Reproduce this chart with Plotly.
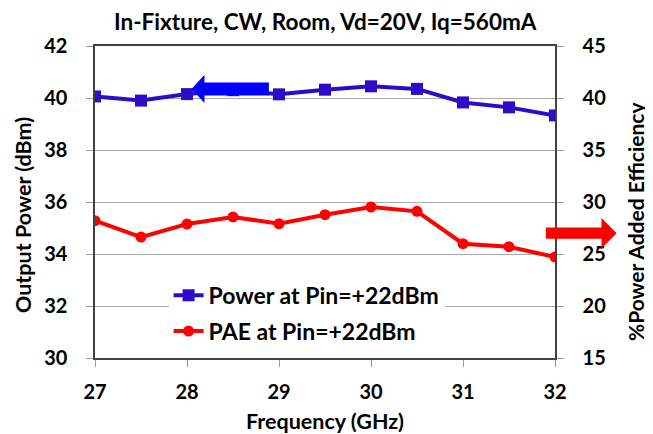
import plotly.graph_objects as go

freq = [27, 27.5, 28, 28.5, 29, 29.5, 30, 30.5, 31, 31.5, 32]
power = [40.06, 39.90, 40.15, 40.30, 40.14, 40.32, 40.45, 40.35, 39.83, 39.64, 39.33]
pae = [28.2, 26.63, 27.88, 28.56, 27.91, 28.78, 29.52, 29.1, 25.99, 25.7, 24.71]

FONT = "Lato"
blue = "#2E0BC8"
red = "#FF0000"
NB = "\u00a0"

fig = go.Figure()
fig.add_trace(go.Scatter(x=freq, y=power, name="<b>Power at Pin=+22dBm</b>", mode="lines+markers",
                         legendgroup="a",
                         line=dict(color=blue, width=4),
                         marker=dict(symbol="square", size=12, color=blue)))
fig.add_trace(go.Scatter(x=freq, y=pae, name="<b>PAE at Pin=+22dBm</b>", mode="lines+markers", yaxis="y2",
                         legendgroup="b",
                         line=dict(color=red, width=4),
                         marker=dict(symbol="circle", size=11, color=red)))

axis_font = dict(family=FONT, size=20, color="black", weight="bold")
# page body has an 8px margin, so the figure is sized 8px smaller
fig.update_layout(
    width=645, height=426,
    margin=dict(l=87, r=98, t=38, b=76),
    paper_bgcolor="white", plot_bgcolor="white",
    xaxis=dict(range=[27, 32], dtick=1, tick0=27, showgrid=False, zeroline=False, automargin=False,
               ticks="outside", ticklen=7, tickcolor="#999999", tickwidth=1, ticklabelstandoff=8,
               showline=True, linecolor="#404040", linewidth=2, mirror=True,
               tickfont=axis_font),
    yaxis=dict(range=[30, 42], dtick=2, showgrid=True, gridcolor="#AAAAAA", gridwidth=1, zeroline=False,
               automargin=False,
               ticks="outside", ticklen=7, tickcolor="#999999",
               showline=True, linecolor="#404040", linewidth=2,
               tickfont=axis_font, ticksuffix=NB * 3),
    yaxis2=dict(range=[15, 45], dtick=5, overlaying="y", side="right", showgrid=False, zeroline=False,
                automargin=False,
                ticks="outside", ticklen=7, tickcolor="#999999",
                showline=True, linecolor="#404040", linewidth=2,
                tickfont=axis_font, tickprefix=NB * 3),
    legend=dict(x=0.16, y=0.27, xanchor="left", yanchor="top", bgcolor="white",
                font=dict(family=FONT, size=23, color="black"), tracegroupgap=3),
    showlegend=True,
)

ann = dict(xref="paper", yref="paper", showarrow=False, xanchor="center", yanchor="middle")
fig.add_annotation(text="<b>In-Fixture, CW, Room, Vd=20V, Iq=560mA</b>",
                   x=0.5, y=1.0, yshift=25, font=dict(family=FONT, size=22.5, color="black"), **ann)
fig.add_annotation(text="<b>Frequency (GHz)</b>",
                   x=0.5, y=0, yshift=-63, font=dict(family=FONT, size=21.5, color="black"), **ann)
fig.add_annotation(text="<b>Output Power (dBm)</b>",
                   x=0, xshift=-72, y=0.5, yshift=-13, textangle=-90,
                   font=dict(family=FONT, size=21.5, color="black"), **ann)
fig.add_annotation(text="<b>%Power Added Efficiency</b>",
                   x=1, xshift=80, y=0.5, yshift=-20, textangle=-90,
                   font=dict(family=FONT, size=21, color="black"), **ann)

# blue arrow pointing left (in data coordinates of power axis)
fig.add_shape(type="path", xref="x", yref="y",
              path="M 28.05 40.35 L 28.19 40.89 L 28.19 40.6 L 28.89 40.6 L 28.89 40.1 L 28.19 40.1 L 28.19 39.81 Z",
              fillcolor="#0000FF", line=dict(width=0))
# red arrow pointing right (outside plot, paper coordinates)
fig.add_shape(type="path", xref="paper", yref="paper",
              path="M 0.98 0.418 L 1.101 0.418 L 1.101 0.449 L 1.134 0.40 L 1.101 0.351 L 1.101 0.382 L 0.98 0.382 Z",
              fillcolor="#FF0000", line=dict(width=0))

fig.write_html("out.html")
